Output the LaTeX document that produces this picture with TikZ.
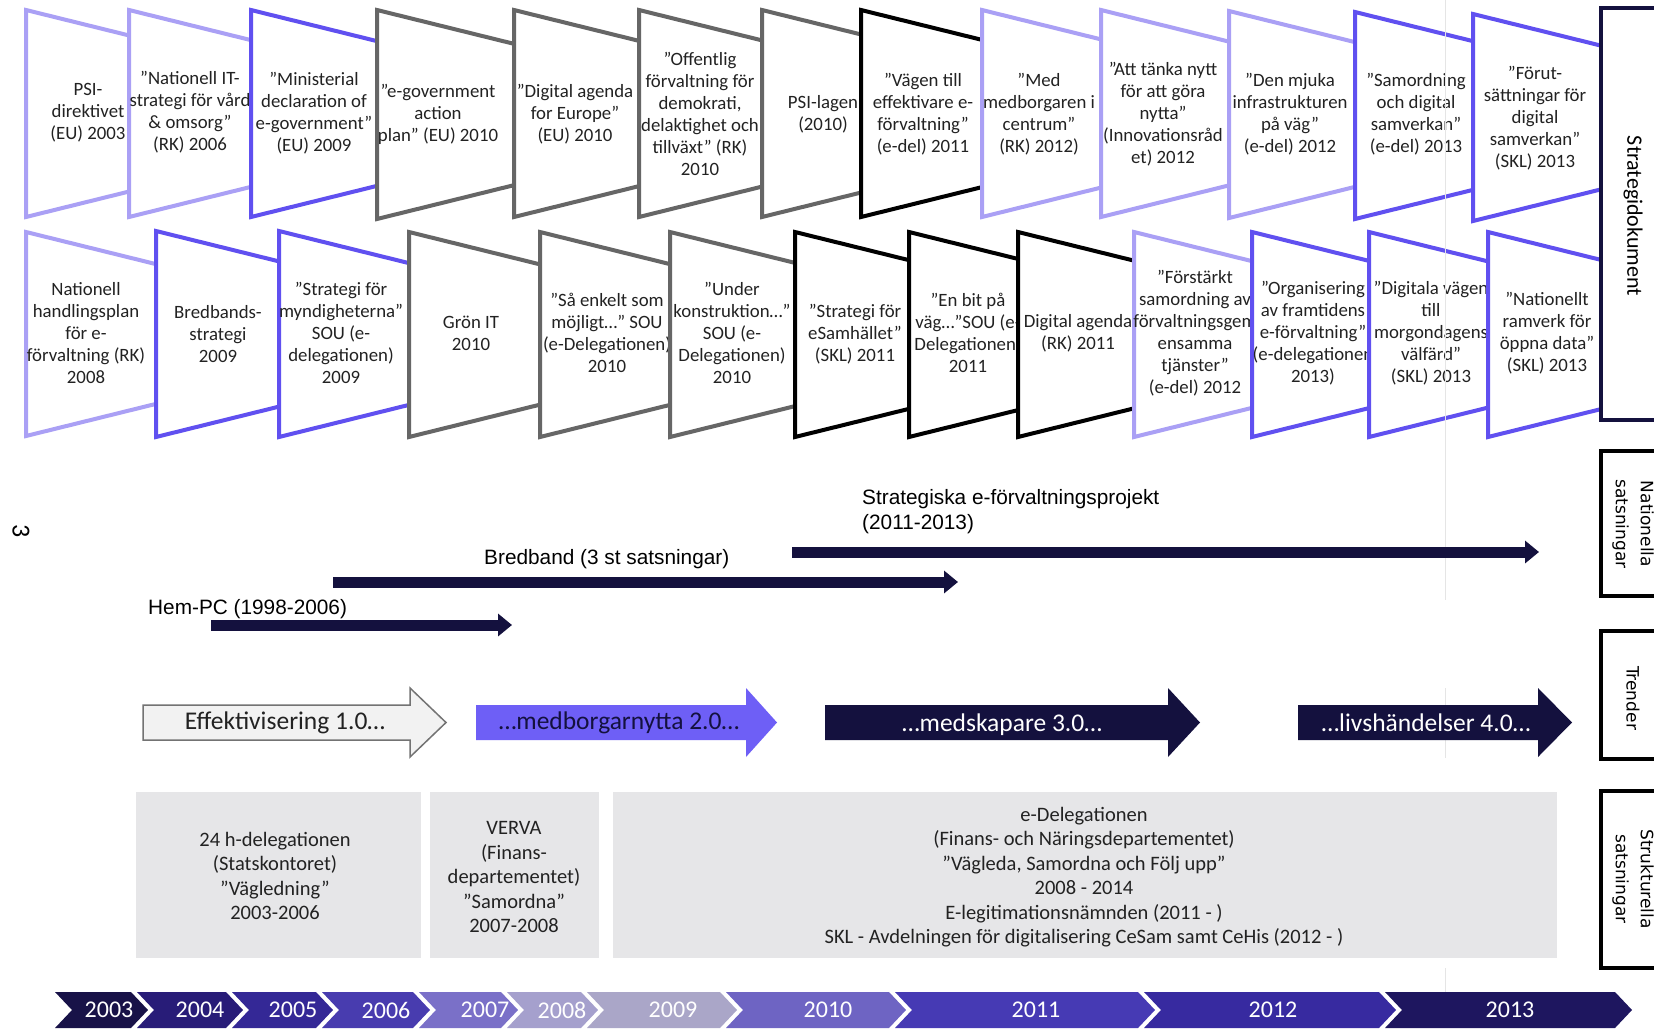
\documentclass[tikz,border=0pt]{standalone}
\usepackage{fontspec}
\setmainfont{Carlito}
\newfontfamily\arialf{Liberation Sans}
\newfontfamily\verdf{DejaVu Sans}
\usetikzlibrary{arrows.meta}
\definecolor{navy}{RGB}{20,17,62}
\definecolor{lav}{RGB}{170,160,245}
\definecolor{vio}{RGB}{96,80,240}
\definecolor{gry}{RGB}{102,102,102}
\definecolor{blk}{RGB}{0,0,0}
\definecolor{trendvio}{RGB}{110,95,246}
\definecolor{boxgray}{RGB}{230,230,232}
\definecolor{txt}{RGB}{34,34,34}
\definecolor{yA}{RGB}{24,18,72}
\definecolor{yB}{RGB}{40,28,120}
\definecolor{yC}{RGB}{52,40,150}
\definecolor{yD}{RGB}{72,60,175}
\definecolor{yE}{RGB}{122,112,200}
\definecolor{yF}{RGB}{165,160,205}
\definecolor{yG}{RGB}{170,166,200}
\definecolor{yH}{RGB}{110,100,195}
\definecolor{yI}{RGB}{70,58,180}
\definecolor{yJ}{RGB}{55,42,160}
\definecolor{yK}{RGB}{30,22,95}
\newcommand\trapz[4]{\filldraw[trap,draw=#4] (#1,#2) -- ++(170,42) -- (#1+170,#3-42) -- (#1,#3) -- cycle;}
\newcommand\chev[3]{\fill[#3] (#1-11,992) -- (#2-17,992) -- (#2,1010) -- (#2-17,1028) -- (#1-11,1028) -- (#1+6,1010) -- cycle;}
\newcommand\trarrow[4]{\path[#4] (#1,705) -- (#2,705) -- (#2,688) -- (#3,722.5) -- (#2,757) -- (#2,740) -- (#1,740) -- cycle;}
\begin{document}
\begin{tikzpicture}[x=1pt,y=-1pt,
  trap/.style={fill=white,line width=4pt,line join=miter},
  tt/.style={align=center,inner sep=0pt,text=txt,font=\fontsize{18.8}{22}\selectfont},
  natarr/.style={draw=navy,line width=11pt,-{Triangle[length=14pt,width=22pt]}},
  natlab/.style={inner sep=0pt,text=black,font=\arialf\fontsize{20.8}{25}\selectfont},
  trendlab/.style={inner sep=0pt,font=\fontsize{25.5}{28}\selectfont},
  strlab/.style={align=center,inner sep=0pt,text=txt,font=\fontsize{20.5}{24.5}\selectfont},
  yearlab/.style={inner sep=0pt,text=white,font=\fontsize{24}{28}\selectfont},
  sidebox/.style={draw=black,line width=3.5pt,fill=white},
  sidelab/.style={align=center,inner sep=0pt,rotate=-90,text=black,font=\verdf\fontsize{17}{25}\selectfont}]
\useasboundingbox (0,0) rectangle (1654,1028);
\clip (0,0) rectangle (1654,1028);
\fill[white] (0,0) rectangle (1654,1028);

% ---------- Row 1 ----------
\trapz{26}{10}{217}{lav}
\node[tt] (a1) at (88,113) {PSI-\\direktivet\\(EU) 2003};
\trapz{129}{10}{217}{lav}
\node[tt] (a2) at (190,112) {”Nationell IT-\\strategi för vård\\\& omsorg”\\(RK) 2006};
\trapz{251}{10}{217}{vio}
\node[tt] (a3) at (314,113) {”Ministerial\\declaration of\\e-government”\\(EU) 2009};
\trapz{377}{10}{219}{gry}
\node[tt] (a4) at (438,114) {”e-government\\action\\plan” (EU) 2010};
\trapz{514}{10}{217}{gry}
\node[tt] (a5) at (575,114) {”Digital agenda\\for Europe”\\(EU) 2010};
\trapz{639}{10}{217}{gry}
\node[tt] (a6) at (700,114) {”Offentlig\\förvaltning för\\demokrati,\\delaktighet och\\tillväxt” (RK)\\2010};
\trapz{762}{10}{217}{gry}
\node[tt] (a7) at (823,114) {PSI-lagen\\(2010)};
\trapz{861}{10}{217}{blk}
\node[tt] (a8) at (923,114) {”Vägen till\\effektivare e-\\förvaltning”\\(e-del) 2011};
\trapz{982}{10}{217}{lav}
\node[tt] (a9) at (1039,114) {”Med\\medborgaren i\\centrum”\\(RK) 2012)};
\trapz{1101}{10}{217}{lav}
\node[tt] (a10) at (1163,114) {”Att tänka nytt\\för att göra\\nytta”\\(Innovationsråd\\et) 2012};
\trapz{1229}{11}{218}{lav}
\node[tt] (a11) at (1290,114) {”Den mjuka\\infrastrukturen\\på väg”\\(e-del) 2012};
\trapz{1355}{12}{219}{vio}
\node[tt] (a12) at (1416,114) {”Samordning\\och digital\\samverkan”\\(e-del) 2013};
\trapz{1473}{14}{221}{vio}
\node[tt] (a13) at (1535,118) {”Förut-\\sättningar för\\digital\\samverkan”\\(SKL) 2013};

% ---------- Row 2 ----------
\trapz{26}{232}{436}{lav}
\node[tt] (b1) at (86,333) {Nationell\\handlingsplan\\för e-\\förvaltning (RK)\\2008};
\trapz{156}{231}{437}{vio}
\node[tt] (b2) at (218,334) {Bredbands-\\strategi\\2009};
\trapz{279}{231}{437}{vio}
\node[tt] (b3) at (341,333) {”Strategi för\\myndigheterna”\\SOU (e-\\delegationen)\\2009};
\trapz{409}{232}{437}{gry}
\node[tt] (b4) at (471,333) {Grön IT\\2010};
\trapz{540}{232}{437}{gry}
\node[tt] (b5) at (607,333) {”Så enkelt som\\möjligt…” SOU\\(e-Delegationen)\\2010};
\trapz{670}{232}{437}{gry}
\node[tt] (b6) at (732,333) {”Under\\konstruktion…”\\SOU (e-\\Delegationen)\\2010};
\trapz{795}{232}{437}{blk}
\node[tt] (b7) at (855,334) {”Strategi för\\eSamhället”\\(SKL) 2011};
\trapz{909}{232}{437}{blk}
\node[tt] (b8) at (968,333) {”En bit på\\väg…”SOU (e-\\Delegationen)\\2011};
\trapz{1018}{232}{437}{blk}
\node[tt] (b9) at (1078,333) {Digital agenda\\(RK) 2011};
\trapz{1134}{232}{437}{lav}
\node[tt] (b10) at (1195,333) {”Förstärkt\\samordning av\\förvaltningsgem\\ensamma\\tjänster”\\(e-del) 2012};
\trapz{1252}{232}{437}{vio}
\node[tt] (b11) at (1313,333) {”Organisering\\av framtidens\\e-förvaltning”\\(e-delegationen\\2013)};
\trapz{1369}{232}{437}{vio}
\node[tt] (b12) at (1431,333) {”Digitala vägen\\till\\morgondagens\\välfärd”\\(SKL) 2013};
\trapz{1488}{232}{437}{vio}
\node[tt] (b13) at (1547,333) {”Nationellt\\ramverk för\\öppna data”\\(SKL) 2013};

% faint vertical rule
\draw[black!10,line width=1pt] (1445,0) -- (1445,600);
\draw[black!10,line width=1pt] (1445,688) -- (1445,758);
\draw[black!10,line width=1pt] (1445,968) -- (1445,992);

% ---------- Side boxes ----------
\filldraw[draw=navy,line width=4.5pt,fill=white] (1601,8) rectangle (1675,420);
\node[sidelab,font=\fontsize{22}{26}\selectfont] (sd) at (1633,216) {Strategidokument};
\draw[sidebox] (1601,451) rectangle (1675,596);
\node[sidelab] (ns) at (1633,524) {Nationella\\satsningar};
\draw[sidebox] (1601,631) rectangle (1675,759);
\node[sidelab] (tr) at (1633,698) {Trender};
\draw[sidebox] (1601,791) rectangle (1675,968);
\node[sidelab] (ss) at (1633,879) {Strukturella\\satsningar};

% page number
\node[inner sep=0pt,rotate=-90,font=\fontsize{26}{26}\selectfont] (pg) at (21,531) {3};

% ---------- Nationella satsningar ----------
\node[natlab,anchor=west] (stratlab) at (862,512) {\begin{tabular}{@{}l@{}}Strategiska e-förvaltningsprojekt\\(2011-2013)\end{tabular}};
\coordinate (stratA) at (792,552);
\coordinate (stratB) at (1539,552);
\draw[natarr] (stratA) -- (stratB);
\node[natlab,anchor=west] (bredlab) at (484,559) {Bredband (3 st satsningar)};
\coordinate (bredA) at (333,582);
\coordinate (bredB) at (958,582);
\draw[natarr] (bredA) -- (bredB);
\node[natlab,anchor=west] (hemlab) at (148,609) {Hem-PC (1998-2006)};
\coordinate (hemA) at (211,625);
\coordinate (hemB) at (512,625);
\draw[natarr] (hemA) -- (hemB);

% ---------- Trender ----------
\trarrow{143}{410}{446}{fill=black!5,draw=black!55,line width=1.5pt,line join=miter}
\node[trendlab,text=txt] (t1) at (285,723) {Effektivisering 1.0…};
\trarrow{476}{746}{777}{fill=trendvio}
\node[trendlab,text=navy] (t2) at (619,723) {…medborgarnytta 2.0…};
\trarrow{825}{1168}{1200}{fill=navy}
\node[trendlab,text=white] (t3) at (1002,725) {…medskapare 3.0…};
\trarrow{1298}{1538}{1572}{fill=navy}
\node[trendlab,text=white] (t4) at (1426,723) {…livshändelser 4.0…};

% ---------- Strukturella satsningar ----------
\fill[boxgray] (136,792) rectangle (421,958);
\fill[boxgray] (430,792) rectangle (599,958);
\fill[boxgray] (613,792) rectangle (1557,958);
\node[strlab] (s1) at (275,876) {24 h-delegationen\\(Statskontoret)\\”Vägledning”\\2003-2006};
\node[strlab] (s2) at (514,877) {VERVA\\(Finans-\\departementet)\\”Samordna”\\2007-2008};
\node[strlab] (s3) at (1084,877) {e-Delegationen\\(Finans- och Näringsdepartementet)\\”Vägleda, Samordna och Följ upp”\\2008 - 2014\\E-legitimationsnämnden (2011 - )\\SKL - Avdelningen för digitalisering CeSam samt CeHis (2012 - )};

% ---------- Years ----------
\chev{66}{148}{yA}
\chev{148}{243}{yB}
\chev{243}{333}{yC}
\chev{333}{430}{yD}
\chev{430}{518}{yE}
\chev{518}{598}{yF}
\chev{598}{737}{yG}
\chev{737}{906}{yH}
\chev{906}{1155}{yI}
\chev{1155}{1396}{yJ}
\chev{1396}{1632}{yK}
\node[yearlab] (y03) at (109,1010) {2003};
\node[yearlab] (y04) at (200,1010) {2004};
\node[yearlab] (y05) at (293,1010) {2005};
\node[yearlab] (y06) at (386,1010) {2006};
\node[yearlab] (y07) at (485,1010) {2007};
\node[yearlab] (y08) at (562,1010) {2008};
\node[yearlab] (y09) at (673,1010) {2009};
\node[yearlab] (y10) at (828,1010) {2010};
\node[yearlab] (y11) at (1036,1010) {2011};
\node[yearlab] (y12) at (1273,1010) {2012};
\node[yearlab] (y13) at (1510,1010) {2013};
\end{tikzpicture}
\end{document}
